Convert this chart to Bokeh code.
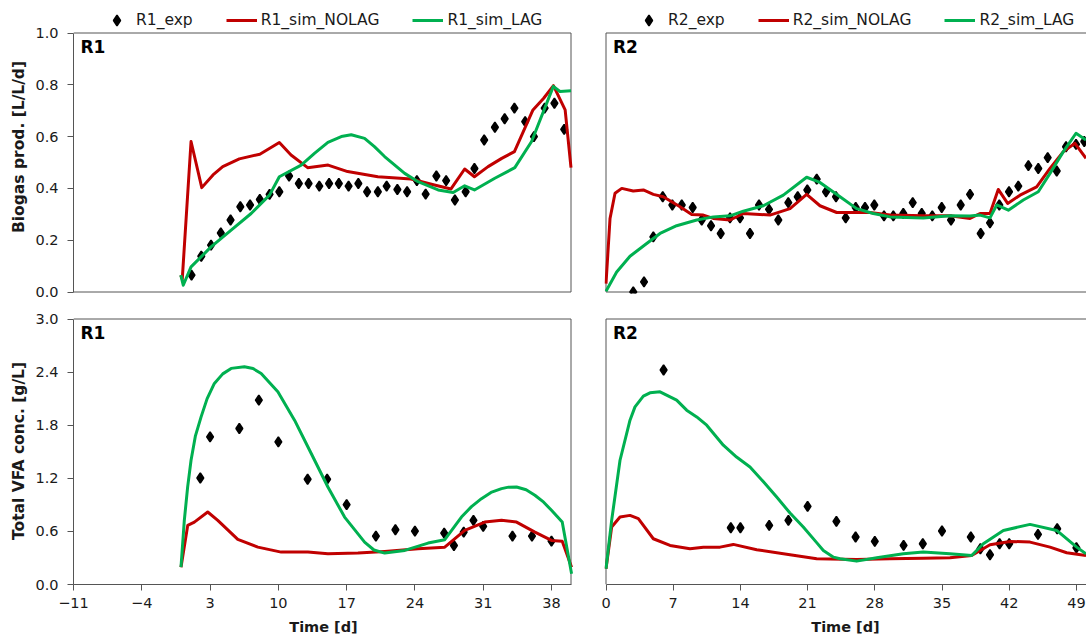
import numpy as np
from bokeh.plotting import figure
from bokeh.layouts import column, row
from bokeh.models import (FixedTicker, NumeralTickFormatter, Legend, LegendItem, Range1d, Label,
                          LinearAxis)
from bokeh.embed import file_html
from bokeh.resources import INLINE

# ---------------- data ----------------
# Biogas production, reactor R1
r1_bio_exp_t = [1.1, 2.1, 3.1, 4.1, 5.1, 6.1, 7.1, 8.1, 9.1, 10.1, 11.1, 12.1, 13.1, 14.2, 15.2, 16.2,
                17.2, 18.2, 19.1, 20.2, 21.1, 22.2, 23.2, 24.2, 25.1, 26.2, 27.2, 28.1, 29.2, 30.1,
                31.1, 32.2, 33.2, 34.2, 35.3, 36.2, 37.3, 38.3, 39.3]
r1_bio_exp = [0.065, 0.138, 0.181, 0.228, 0.278, 0.329, 0.336, 0.357, 0.377, 0.387, 0.448, 0.419, 0.419,
              0.409, 0.419, 0.419, 0.409, 0.419, 0.387, 0.387, 0.409, 0.396, 0.387, 0.43, 0.378, 0.448,
              0.43, 0.355, 0.387, 0.477, 0.587, 0.636, 0.669, 0.71, 0.658, 0.6, 0.71, 0.729, 0.628]
r1_bio_nolag_t = [0.0, 0.15, 1.05, 2.15, 3.3, 4.3, 6.0, 8.1, 10.1, 11.3, 13.0, 15.1, 17.1, 20.2, 23.6,
                  26.0, 27.7, 29.1, 30.1, 31.5, 32.9, 34.2, 36.1, 37.2, 38.2, 39.4, 40.0]
r1_bio_nolag = [0.065, 0.05, 0.581, 0.403, 0.452, 0.484, 0.514, 0.532, 0.577, 0.529, 0.48, 0.49, 0.465,
                0.445, 0.436, 0.413, 0.398, 0.475, 0.445, 0.484, 0.516, 0.542, 0.703, 0.748, 0.797,
                0.703, 0.48]
r1_bio_lag_t = [0.0, 0.25, 1.05, 3.1, 5.16, 7.21, 9.09, 10.1, 12.34, 13.7, 15.08, 16.45, 17.47, 18.84,
                19.85, 20.89, 22.95, 24.32, 26.38, 27.92, 29.1, 30.1, 32.19, 34.24, 35.96, 38.19, 38.87,
                40.0]
r1_bio_lag = [0.065, 0.026, 0.097, 0.174, 0.239, 0.303, 0.374, 0.445, 0.49, 0.535, 0.578, 0.6, 0.607,
              0.593, 0.561, 0.523, 0.458, 0.426, 0.394, 0.384, 0.41, 0.394, 0.439, 0.48, 0.581, 0.794,
              0.774, 0.777]

# Biogas production, reactor R2
r2_bio_exp_t = [2.84, 3.96, 4.93, 5.91, 6.91, 7.89, 9.03, 9.97, 10.94, 11.95, 12.92, 13.96, 15.0, 15.94,
                16.98, 17.95, 18.99, 19.97, 20.97, 21.95, 22.92, 23.96, 24.97, 26.01, 26.98, 27.95,
                28.96, 29.93, 30.97, 31.95, 32.89, 33.99, 34.97, 35.94, 36.95, 37.92, 39.03, 40.0,
                40.97, 41.98, 42.95, 44.0, 45.03, 46.01, 46.95, 47.92, 48.96, 49.82]
r2_bio_exp = [0.0, 0.039, 0.213, 0.368, 0.336, 0.336, 0.326, 0.278, 0.256, 0.226, 0.286, 0.286, 0.226,
              0.336, 0.319, 0.278, 0.345, 0.368, 0.394, 0.436, 0.387, 0.368, 0.286, 0.326, 0.326, 0.336,
              0.294, 0.294, 0.303, 0.345, 0.303, 0.294, 0.326, 0.278, 0.336, 0.377, 0.226, 0.267,
              0.336, 0.387, 0.409, 0.488, 0.477, 0.519, 0.467, 0.561, 0.57, 0.581]
r2_bio_nolag_t = [0.0, 0.42, 0.94, 1.64, 2.84, 3.89, 4.93, 5.97, 7.71, 8.93, 10.14, 11.18, 12.92, 14.3,
                  17.08, 19.17, 20.9, 22.29, 24.03, 27.5, 29.58, 33.05, 35.83, 37.92, 38.96, 40.0,
                  40.86, 41.84, 43.13, 44.86, 46.25, 47.64, 48.85, 50.0]
r2_bio_nolag = [0.032, 0.284, 0.381, 0.40, 0.39, 0.394, 0.377, 0.368, 0.329, 0.299, 0.297, 0.284, 0.278,
                0.303, 0.297, 0.322, 0.377, 0.333, 0.307, 0.307, 0.297, 0.294, 0.294, 0.284, 0.303,
                0.303, 0.396, 0.342, 0.374, 0.406, 0.477, 0.542, 0.574, 0.516]
r2_bio_lag_t = [0.0, 1.11, 2.5, 4.24, 5.63, 7.36, 9.45, 11.18, 12.92, 14.3, 16.39, 18.47, 20.9, 22.29,
                24.38, 26.11, 27.84, 29.58, 33.05, 35.83, 37.92, 38.96, 40.0, 40.7, 41.91, 43.47, 45.03,
                46.25, 47.64, 48.96, 50.0]
r2_bio_lag = [0.003, 0.077, 0.138, 0.187, 0.226, 0.256, 0.278, 0.29, 0.294, 0.312, 0.333, 0.374, 0.443,
              0.423, 0.368, 0.322, 0.303, 0.29, 0.286, 0.294, 0.293, 0.297, 0.286, 0.336, 0.316, 0.355,
              0.387, 0.458, 0.542, 0.613, 0.587]

# Total VFA concentration, reactor R1
r1_vfa_exp_t = [2, 3, 6, 8, 10, 13, 15, 17, 20, 22, 24, 27, 28, 29, 30, 31, 34, 36, 38]
r1_vfa_exp = [1.203, 1.668, 1.763, 2.083, 1.611, 1.189, 1.189, 0.902, 0.547, 0.619, 0.603, 0.581, 0.441,
              0.592, 0.725, 0.657, 0.547, 0.547, 0.49]
r1_vfa_nolag_t = [0.02, 0.71, 1.39, 2.76, 3.79, 5.84, 7.9, 10.29, 13.03, 15.08, 18.16, 20.9, 24.32, 27.06,
                  29.11, 31.16, 32.88, 34.42, 36.3, 38.0, 39.1, 40.06]
r1_vfa_nolag = [0.196, 0.668, 0.705, 0.819, 0.725, 0.509, 0.422, 0.366, 0.366, 0.347, 0.355, 0.374, 0.404,
                0.422, 0.611, 0.705, 0.725, 0.705, 0.592, 0.498, 0.49, 0.196]
r1_vfa_lag_t = [0.02, 0.36, 0.7, 1.05, 1.5, 2.08, 2.7, 3.44, 4.3, 5.16, 6.52, 7.4, 8.24, 9.95, 11.66,
                13.37, 15.08, 16.79, 18.84, 19.8, 20.9, 22.95, 25.35, 27.06, 28.77, 29.8, 30.82, 31.8,
                32.88, 33.6, 34.42, 35.4, 36.3, 37.2, 38.0, 39.1, 40.06]
r1_vfa_lag = [0.196, 0.725, 1.1, 1.404, 1.68, 1.894, 2.1, 2.272, 2.38, 2.442, 2.46, 2.44, 2.385, 2.177,
              1.857, 1.48, 1.102, 0.762, 0.479, 0.39, 0.355, 0.385, 0.468, 0.506, 0.762, 0.88, 0.97,
              1.04, 1.083, 1.1, 1.102, 1.07, 1.008, 0.93, 0.838, 0.705, 0.121]

# Total VFA concentration, reactor R2
r2_vfa_exp_t = [6, 13, 14, 17, 19, 21, 24, 26, 28, 31, 33, 35, 38, 39, 40, 41, 42, 45, 47, 49]
r2_vfa_exp = [2.423, 0.642, 0.642, 0.668, 0.725, 0.883, 0.713, 0.536, 0.487, 0.442, 0.461, 0.604, 0.536,
              0.404, 0.336, 0.461, 0.461, 0.566, 0.63, 0.415]
r2_vfa_nolag_t = [0.0, 0.59, 1.46, 2.5, 3.37, 4.93, 6.67, 8.75, 10.14, 11.88, 13.26, 15.7, 19.17, 21.95,
                  26.11, 29.58, 33.05, 35.83, 38.09, 40.0, 42.08, 44.17, 46.25, 47.99, 50.0]
r2_vfa_nolag = [0.178, 0.649, 0.762, 0.781, 0.744, 0.517, 0.441, 0.404, 0.422, 0.422, 0.453, 0.393, 0.336,
                0.291, 0.283, 0.291, 0.298, 0.302, 0.328, 0.449, 0.487, 0.479, 0.422, 0.359, 0.328]
r2_vfa_lag_t = [0.0, 0.59, 1.46, 2.5, 3.02, 3.89, 4.58, 5.63, 7.36, 8.4, 9.45, 10.49, 12.22, 13.6, 15.0,
                16.4, 17.78, 19.17, 20.55, 21.9, 22.64, 23.7, 24.38, 26.11, 28.2, 30.97, 33.05, 35.83,
                38.09, 39.3, 41.39, 44.17, 46.95, 49.03, 50.0]
r2_vfa_lag = [0.178, 0.725, 1.404, 1.857, 2.007, 2.128, 2.166, 2.177, 2.083, 1.97, 1.894, 1.8, 1.574,
              1.44, 1.328, 1.16, 0.988, 0.807, 0.649, 0.479, 0.385, 0.309, 0.291, 0.264, 0.302, 0.347,
              0.366, 0.347, 0.328, 0.461, 0.611, 0.679, 0.611, 0.422, 0.347]

r1_xlim = (-11, 40)
r2_xlim = (0, 50)
bio_ylim = (0, 1.0)
vfa_ylim = (0, 3.0)
r1_xticks = [-11, -4, 3, 10, 17, 24, 31, 38]
r2_xticks = [0, 7, 14, 21, 28, 35, 42, 49]
bio_yticks = [0.0, 0.2, 0.4, 0.6, 0.8, 1.0]
vfa_yticks = [0.0, 0.6, 1.2, 1.8, 2.4, 3.0]

# ---------------- style ----------------
FONT = "DejaVu Sans"
RED = "#C00000"
GREEN = "#00B050"
AXC = "#555555"
TXT = "#1a1a1a"
LW = 3

# pixel geometry (half-pixel offsets keep the 1 px frame lines crisp)
FW_L, FW_R = 500, 482            # frame widths (px)
PX_L = 497.5 / (r1_xlim[1] - r1_xlim[0])   # px per day, left column
PX_R = 480.0 / (r2_xlim[1] - r2_xlim[0])   # px per day, right column
EXT_R = 1.5                                 # px left of day 0 in right column
TOP_PAD = 32.5                              # legend strip above the top frames
EXT = 1.5
PX_BIO = 259.0 / (bio_ylim[1] - bio_ylim[0])
TOP_FH = 293
PX_VFA = (267 - EXT) / (vfa_ylim[1] - vfa_ylim[0])
BOT_FH = 267

XR_L = (r1_xlim[0], r1_xlim[0] + FW_L / PX_L)
XR_R = (r2_xlim[0] - EXT_R / PX_R, r2_xlim[0] + (FW_R - EXT_R) / PX_R)
YR_T = (bio_ylim[1] - (TOP_FH - TOP_PAD) / PX_BIO, bio_ylim[1] + TOP_PAD / PX_BIO)
YR_B = (vfa_ylim[0], vfa_ylim[1] + EXT / PX_VFA)


def base(xr, yr, fw, fh, left, right, top, bottom):
    p = figure(x_range=Range1d(*xr), y_range=Range1d(*yr),
               frame_width=fw, frame_height=fh,
               min_border_left=left, min_border_right=right,
               min_border_top=top, min_border_bottom=bottom,
               toolbar_location=None, output_backend="svg",
               x_axis_location=None, y_axis_location=None)
    p.xgrid.visible = False
    p.ygrid.visible = False
    p.outline_line_color = None
    p.background_fill_color = "white"
    p.border_fill_color = "white"
    return p


def make_axis(ticks, bounds, fmt=None, label=None, label_size="15.5px", label_standoff=4,
              major_label_standoff=9):
    ax = LinearAxis(ticker=FixedTicker(ticks=ticks), bounds=bounds)
    if fmt:
        ax.formatter = NumeralTickFormatter(format=fmt)
    ax.axis_line_color = AXC
    ax.major_tick_line_color = AXC
    ax.major_tick_out = 6
    ax.major_tick_in = 0
    ax.minor_tick_line_color = None
    ax.major_label_text_font = FONT
    ax.major_label_text_font_size = "14.5px"
    ax.major_label_text_color = TXT
    ax.major_label_standoff = major_label_standoff
    ax.axis_label = label
    ax.axis_label_text_font = FONT
    ax.axis_label_text_font_style = "bold"
    ax.axis_label_text_font_size = label_size
    ax.axis_label_text_color = TXT
    ax.axis_label_standoff = label_standoff
    return ax


def frame_lines(p, xs, ys):
    p.line(xs, ys, line_color=AXC, line_width=1)


def draw(p, exp_t, exp_v, nolag_t, nolag_v, lag_t, lag_v, name, xlim, ylim, legend_loc):
    r_exp = p.scatter(exp_t, exp_v, marker="diamond", size=10, line_width=1.6,
                      fill_color="black", line_color="black")
    r_nolag = p.line(nolag_t, nolag_v, line_color=RED, line_width=LW, line_join="round")
    r_lag = p.line(lag_t, lag_v, line_color=GREEN, line_width=LW, line_join="round")
    if legend_loc is not None:
        lg = Legend(items=[LegendItem(label=f"{name}_exp", renderers=[r_exp]),
                           LegendItem(label=f"{name}_sim_NOLAG", renderers=[r_nolag]),
                           LegendItem(label=f"{name}_sim_LAG", renderers=[r_lag])],
                    orientation="horizontal", location=legend_loc,
                    padding=0, margin=0, spacing=33, glyph_width=31, glyph_height=26,
                    label_standoff=4, label_text_font=FONT, label_text_font_size="15.5px",
                    label_text_color=TXT, border_line_color=None, background_fill_alpha=0,
                    background_fill_color=None)
        p.add_layout(lg, "center")
    lab = Label(x=xlim[0], y=ylim[1], x_offset=7, y_offset=-4, text=name,
                text_font=FONT, text_font_style="bold", text_font_size="17px",
                text_baseline="top", text_color="black")
    p.add_layout(lab)


LEG_Y = int(TOP_FH - TOP_PAD)

# ---- top-left: biogas R1 ----
tl = base(XR_L, YR_T, FW_L, TOP_FH, 73, 0, 0, 14)
tl.add_layout(make_axis(bio_yticks, bio_ylim, "0.0", "Biogas prod. [L/L/d]"), "left")
frame_lines(tl, [r1_xlim[0], r1_xlim[1], r1_xlim[1], r1_xlim[0]],
            [bio_ylim[1], bio_ylim[1], bio_ylim[0], bio_ylim[0]])
draw(tl, r1_bio_exp_t, r1_bio_exp, r1_bio_nolag_t, r1_bio_nolag, r1_bio_lag_t, r1_bio_lag, "R1",
     r1_xlim, bio_ylim, (28, LEG_Y))

# ---- top-right: biogas R2 (right edge runs out of the picture) ----
tr = base(XR_R, YR_T, FW_R, TOP_FH, 31, 0, 0, 14)
frame_lines(tr, [r2_xlim[1] + 1, r2_xlim[0], r2_xlim[0], r2_xlim[1] + 1],
            [bio_ylim[1], bio_ylim[1], bio_ylim[0], bio_ylim[0]])
draw(tr, r2_bio_exp_t, r2_bio_exp, r2_bio_nolag_t, r2_bio_nolag, r2_bio_lag_t, r2_bio_lag, "R2",
     r2_xlim, bio_ylim, (29, LEG_Y))

# ---- bottom-left: VFA R1 ----
bl = base(XR_L, YR_B, FW_L, BOT_FH, 73, 0, 10, 55)
bl.add_layout(make_axis(vfa_yticks, vfa_ylim, "0.0", "Total VFA conc. [g/L]"), "left")
bl.add_layout(make_axis(r1_xticks, r1_xlim, None, "Time [d]", "14.5px", 8, 7), "below")
frame_lines(bl, [r1_xlim[0], r1_xlim[1], r1_xlim[1]],
            [vfa_ylim[1], vfa_ylim[1], vfa_ylim[0]])
draw(bl, r1_vfa_exp_t, r1_vfa_exp, r1_vfa_nolag_t, r1_vfa_nolag, r1_vfa_lag_t, r1_vfa_lag, "R1",
     r1_xlim, vfa_ylim, None)

# ---- bottom-right: VFA R2 ----
br = base(XR_R, YR_B, FW_R, BOT_FH, 31, 0, 10, 55)
br.add_layout(make_axis(r2_xticks, (r2_xlim[0], r2_xlim[1] + 1), None, "Time [d]", "14.5px", 8, 7),
              "below")
frame_lines(br, [r2_xlim[1] + 1, r2_xlim[0], r2_xlim[0]],
            [vfa_ylim[1], vfa_ylim[1], vfa_ylim[0]])
draw(br, r2_vfa_exp_t, r2_vfa_exp, r2_vfa_nolag_t, r2_vfa_nolag, r2_vfa_lag_t, r2_vfa_lag, "R2",
     r2_xlim, vfa_ylim, None)

layout = column(row(tl, tr, spacing=0), row(bl, br, spacing=0), spacing=0)

open("out.html", "w").write(file_html(layout, INLINE))
